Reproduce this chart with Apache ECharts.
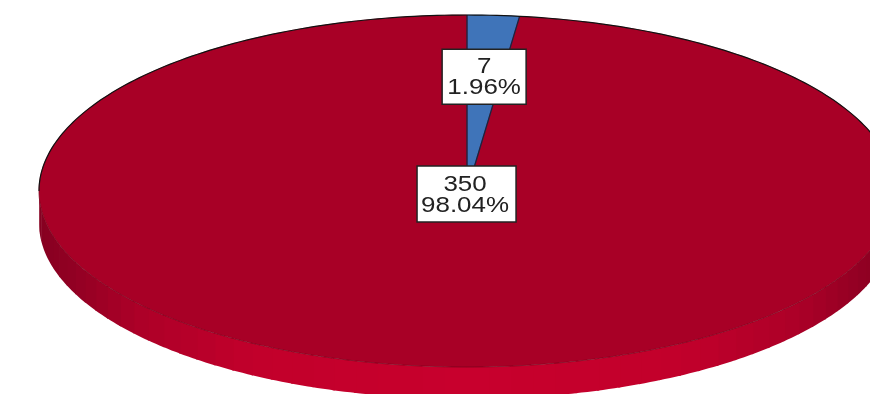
<!DOCTYPE html>
<html>
<head>
<meta charset="utf-8">
<style>
html,body{margin:0;padding:0;background:#fff;overflow:hidden}
#c{width:870px;height:394px;filter:blur(0.6px)}
</style>
<script src="https://cdn.jsdelivr.net/npm/echarts@6/dist/echarts.min.js"></script>
</head>
<body>
<div id="c"></div>
<script>
// Data
const sliceValues = [7, 350];
const sliceColors = ['#3f74b9', '#a80026'];
const labelRadius = [0.65, 0.017];

// Styling constants
const DEPTH = 0.182;          // wall height in axis units
const X_MAX = 0.9416;         // the pie runs past the right edge of the page
const BOX = [[84, 55], [99, 56]];
const TEXT_DX = [0, -1.5];
const wallStops = [[0, 200, 0, 45], [0.5, 194, 0, 43], [0.77, 172, 0, 40], [0.92, 146, 0, 35], [1, 134, 0, 33]];

const total = sliceValues.reduce((a, b) => a + b, 0);
const chart = echarts.init(document.getElementById('c'));
const D2R = Math.PI / 180;

function sweep(i) {
  let s = 0;
  for (let k = 0; k < i; k++) s += sliceValues[k];
  return [s / total * 360, (s + sliceValues[i]) / total * 360];
}
function pt(api, a, f, dy) {
  return api.coord([Math.sin(a * D2R) * f, Math.cos(a * D2R) * f - (dy || 0)]);
}
function arc(api, a0, a1, dy) {
  const n = Math.max(2, Math.ceil((a1 - a0) / 1));
  const p = [];
  for (let i = 0; i <= n; i++) p.push(pt(api, a0 + (a1 - a0) * i / n, 1, dy));
  return p;
}
function wallColor(nx) {
  for (let i = 1; i < wallStops.length; i++) {
    if (nx <= wallStops[i][0]) {
      const a = wallStops[i - 1], b = wallStops[i], t = (nx - a[0]) / (b[0] - a[0]);
      return 'rgb(' + [1, 2, 3].map(k => Math.round(a[k] + (b[k] - a[k]) * t)).join(',') + ')';
    }
  }
  return 'rgb(134,0,33)';
}
function renderWall(params, api) {
  const kids = [];
  const step = 3;
  for (let a = 90; a < 270; a += step) {
    const top = arc(api, a, a + step + 0.3, 0);
    const bot = arc(api, a, a + step + 0.3, DEPTH).reverse();
    const c = wallColor(Math.abs(Math.sin((a + step / 2) * D2R)));
    kids.push({ type: 'polygon', shape: { points: top.concat(bot) }, style: { fill: c } });
  }
  return { type: 'group', children: kids };
}
function renderSlice(params, api) {
  const i = params.dataIndex, s = sweep(i);
  const o = api.coord([0, 0]);
  const a = arc(api, s[0], s[1], 0);
  return {
    type: 'polygon',
    shape: { points: [o].concat(a) },
    style: { fill: sliceColors[i], stroke: sliceColors[i], lineWidth: 0.5 }
  };
}
function renderEdges(params, api) {
  const i = params.dataIndex, s = sweep(i);
  const o = api.coord([0, 0]);
  const kids = [];
  if (i === 0) {
    kids.push({ type: 'polyline', shape: { points: [pt(api, s[0], 1), o, pt(api, s[1], 1)] },
      style: { fill: null, stroke: '#1a2440', lineWidth: 1.3 } });
  } else {
    kids.push({ type: 'polyline', shape: { points: arc(api, -90, 0, 0) }, style: { fill: null, stroke: '#111', lineWidth: 1.2 } });
    kids.push({ type: 'polyline', shape: { points: arc(api, 0, 90, 0) }, style: { fill: null, stroke: '#111', lineWidth: 1.2 } });
    kids.push({ type: 'polyline', shape: { points: arc(api, 90, 270, 0) }, style: { fill: null, stroke: 'rgba(70,0,15,0.45)', lineWidth: 0.8 } });
  }
  return { type: 'group', children: kids };
}
function renderLabel(params, api) {
  const i = params.dataIndex, s = sweep(i);
  const m = (s[0] + s[1]) / 2;
  const p = pt(api, m, labelRadius[i]);
  const w = BOX[i][0], h = BOX[i][1];
  const pct = (sliceValues[i] / total * 100).toFixed(2) + '%';
  const txt = (t, y) => ({
    type: 'text', x: TEXT_DX[i], y: y, scaleX: 1.18,
    style: { text: t, x: 0, y: 0, fill: '#222', font: '22px "Liberation Sans", Arial, sans-serif', textAlign: 'center', textVerticalAlign: 'middle' }
  });
  return {
    type: 'group', x: p[0], y: p[1],
    children: [
      { type: 'rect', shape: { x: -w / 2, y: -h / 2, width: w, height: h }, style: { fill: '#fff', stroke: '#222', lineWidth: 1.5 } },
      txt(String(sliceValues[i]), -9.5),
      txt(pct, 11.5)
    ]
  };
}
const sliceData = sliceValues.map(v => [v]);
const layer = (fn, data, z) => ({
  type: 'custom', renderItem: fn, data: data, z: z, silent: true, clip: false,
  encode: { x: 0, y: 0 }, animation: false
});
chart.setOption({
  animation: false,
  backgroundColor: '#fff',
  grid: { left: 39, top: 15, right: 0, height: 352 },
  xAxis: { type: 'value', min: -1, max: X_MAX, show: false },
  yAxis: { type: 'value', min: -1, max: 1, show: false },
  series: [
    layer(renderWall, [[total]], 1),
    layer(renderSlice, sliceData, 2),
    layer(renderEdges, sliceData, 3),
    layer(renderLabel, sliceData, 4)
  ]
});
</script>
</body>
</html>
